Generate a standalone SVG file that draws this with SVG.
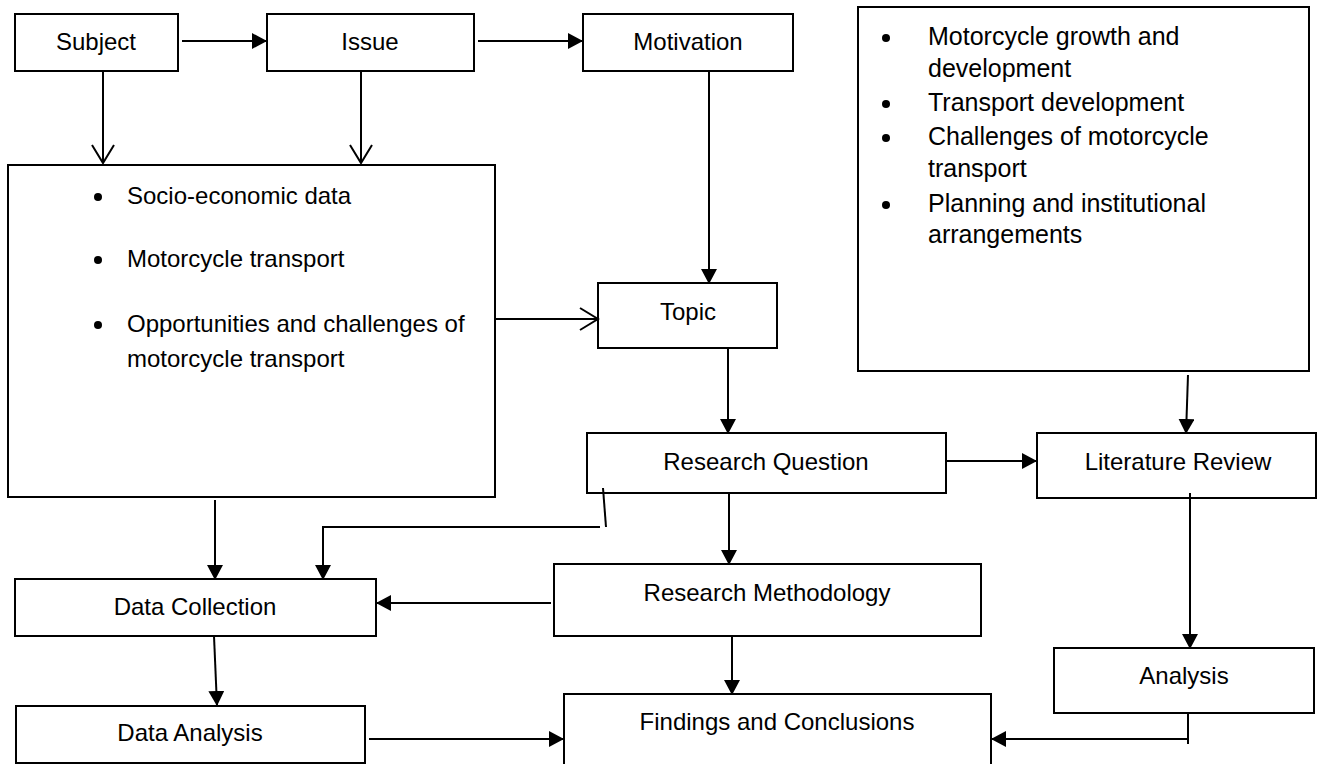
<svg xmlns="http://www.w3.org/2000/svg" width="1320" height="764" viewBox="0 0 1320 764">
<defs>
<marker id="fa" markerUnits="userSpaceOnUse" markerWidth="16" markerHeight="17" refX="15" refY="8" orient="auto">
<path d="M0,0 L15,8 L0,16 z" fill="#000"/>
</marker>
<marker id="oa" markerUnits="userSpaceOnUse" markerWidth="22" markerHeight="26" refX="19" refY="12" orient="auto">
<path d="M1,1 L19,12 L1,23" fill="none" stroke="#000" stroke-width="2"/>
</marker>
</defs>
<style>
.box{fill:#fff;stroke:#000;stroke-width:2}
.t{font-family:"Liberation Sans",Arial,sans-serif;font-size:24px;fill:#000}
.b{font-size:25px}
.c{text-anchor:middle}
.ln{fill:none;stroke:#000;stroke-width:2}
</style>
<rect width="1320" height="764" fill="#fff"/>
<g id="subject"><rect class="box" x="15" y="14" width="163" height="57"/><text class="t c" x="96" y="50">Subject</text></g>
<g id="issue"><rect class="box" x="267" y="14" width="207" height="57"/><text class="t c" x="370" y="50">Issue</text></g>
<g id="motivation"><rect class="box" x="583" y="14" width="210" height="57"/><text class="t c" x="688" y="50">Motivation</text></g>
<g id="context">
<rect class="box" x="8" y="165" width="487" height="332"/>
<circle cx="98" cy="197" r="4"/><text class="t" x="127" y="204">Socio-economic data</text>
<circle cx="98" cy="260" r="4"/><text class="t" x="127" y="267">Motorcycle transport</text>
<circle cx="98" cy="325" r="4"/><text class="t" x="127" y="332">Opportunities and challenges of</text>
<text class="t" x="127" y="367">motorcycle transport</text>
</g>
<g id="literature-topics">
<rect class="box" x="858" y="7" width="451" height="364"/>
<circle cx="886" cy="38" r="4"/><text class="t b" x="928" y="45">Motorcycle growth and</text>
<text class="t b" x="928" y="77">development</text>
<circle cx="886" cy="104" r="4"/><text class="t b" x="928" y="111">Transport development</text>
<circle cx="886" cy="138" r="4"/><text class="t b" x="928" y="145">Challenges of motorcycle</text>
<text class="t b" x="928" y="177">transport</text>
<circle cx="886" cy="205" r="4"/><text class="t b" x="928" y="212">Planning and institutional</text>
<text class="t b" x="928" y="243">arrangements</text>
</g>
<g id="topic"><rect class="box" x="598" y="283" width="179" height="65"/><text class="t c" x="688" y="320">Topic</text></g>
<g id="research-question"><rect class="box" x="587" y="433" width="359" height="60"/><text class="t c" x="766" y="470">Research Question</text></g>
<g id="literature-review"><rect class="box" x="1037" y="433" width="279" height="65"/><text class="t c" x="1178" y="470">Literature Review</text></g>
<g id="research-methodology"><rect class="box" x="554" y="564" width="427" height="72"/><text class="t c" x="767" y="601">Research Methodology</text></g>
<g id="data-collection"><rect class="box" x="15" y="579" width="361" height="57"/><text class="t c" x="195" y="615">Data Collection</text></g>
<g id="analysis"><rect class="box" x="1054" y="648" width="260" height="65"/><text class="t c" x="1184" y="684">Analysis</text></g>
<g id="data-analysis"><rect class="box" x="16" y="706" width="349" height="57"/><text class="t c" x="190" y="741">Data Analysis</text></g>
<g id="findings"><rect class="box" x="564" y="694" width="427" height="80"/><text class="t c" x="777" y="730">Findings and Conclusions</text></g>
<g id="connectors">
<line class="ln" x1="182" y1="41" x2="267" y2="41" marker-end="url(#fa)"/>
<line class="ln" x1="478" y1="41" x2="583" y2="41" marker-end="url(#fa)"/>
<line class="ln" x1="103" y1="71" x2="103" y2="163" marker-end="url(#oa)"/>
<line class="ln" x1="361" y1="71" x2="361" y2="163" marker-end="url(#oa)"/>
<line class="ln" x1="709" y1="71" x2="709" y2="284" marker-end="url(#fa)"/>
<line class="ln" x1="495" y1="319" x2="598" y2="319" marker-end="url(#oa)"/>
<line class="ln" x1="728" y1="348" x2="728" y2="434" marker-end="url(#fa)"/>
<line class="ln" x1="946" y1="461" x2="1037" y2="461" marker-end="url(#fa)"/>
<line class="ln" x1="1188" y1="375" x2="1186" y2="434" marker-end="url(#fa)"/>
<line class="ln" x1="1190" y1="493" x2="1190" y2="649" marker-end="url(#fa)"/>
<line class="ln" x1="729" y1="493" x2="729" y2="565" marker-end="url(#fa)"/>
<line class="ln" x1="732" y1="636" x2="732" y2="695" marker-end="url(#fa)"/>
<line class="ln" x1="215" y1="500" x2="215" y2="580" marker-end="url(#fa)"/>
<line class="ln" x1="603" y1="488" x2="606" y2="527"/>
<polyline class="ln" points="600,527 323,527 323,580" marker-end="url(#fa)"/>
<line class="ln" x1="551" y1="603" x2="376" y2="603" marker-end="url(#fa)"/>
<line class="ln" x1="214" y1="636" x2="217" y2="706" marker-end="url(#fa)"/>
<line class="ln" x1="369" y1="739" x2="564" y2="739" marker-end="url(#fa)"/>
<polyline class="ln" points="1188,713 1188,744"/>
<line class="ln" x1="1188" y1="739" x2="991" y2="739" marker-end="url(#fa)"/>
</g>
</svg>
